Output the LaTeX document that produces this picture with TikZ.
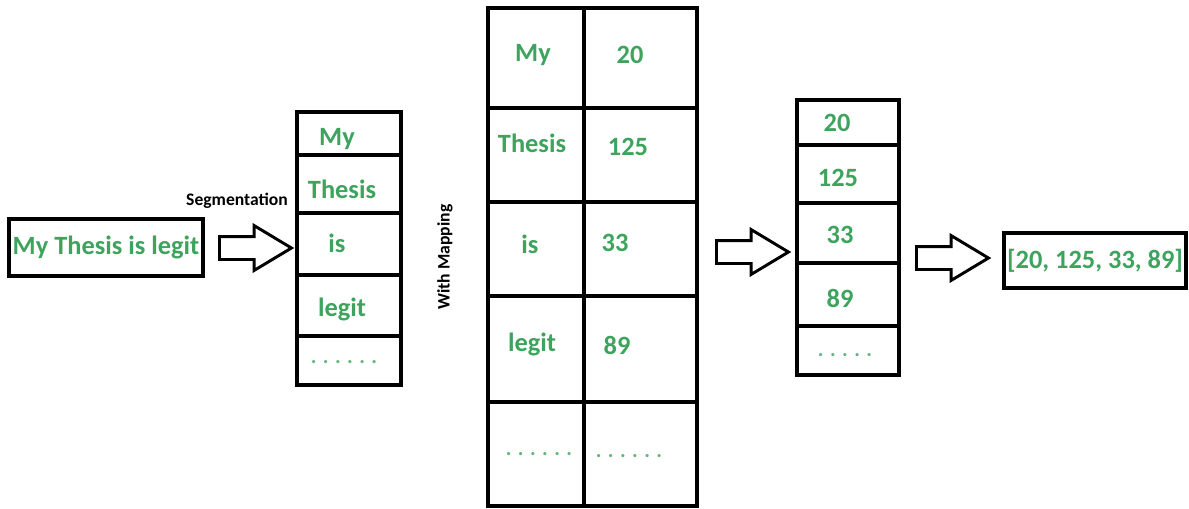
\documentclass[tikz,border=0pt]{standalone}
\usepackage{fontspec}
\setmainfont{Carlito}
\usetikzlibrary{shapes.arrows}
\definecolor{gfgreen}{RGB}{61,163,93}
\tikzset{
    box/.style = {draw, line width = 2.4pt, inner sep = 0pt},
    word/.style = {text = gfgreen, font = \fontsize{19.8}{21}\selectfont\bfseries, inner sep = 0pt},
    dots/.style = {text = gfgreen!80, font = \fontsize{16}{18}\selectfont\bfseries, inner sep = 0pt},
    note/.style = {font = \fontsize{13.2}{15}\selectfont\bfseries, inner sep = 0pt},
    bigarrow/.style = {single arrow, draw, line width = 2.2pt, fill = white, inner xsep = 0pt, inner ysep = 7.5pt,
        minimum height = 54pt, minimum width = 0pt, single arrow head extend = 8.25pt,
        single arrow tip angle = 62, anchor = tail}
}
\begin{document}
\begin{tikzpicture}[x=0.75pt,y=0.75pt,yscale=-1,xscale=1]
            \useasboundingbox (0, 0) rectangle (1189, 508);
            %Input
            \node[box, word, minimum width = 145.5pt, minimum height = 42.75pt] (input) at (106, 247.5) {My Thesis is legit};
            \node[note] (segtext) at (237, 201) {Segmentation};
            \node[bigarrow] (arrow1) at (218, 248) {};
            %Segments
            \foreach \n/\ya/\yb in {1/112/155, 2/155/213, 3/213/275, 4/275/336, 5/336/385} {
                \node[box, minimum width = 78pt, minimum height = {(\yb - \ya) * 0.75pt}] (seg\n) at (349, {(\ya + \yb) / 2}) {};
            }
            \foreach \n/\t/\x/\y in {1/My/337/139, 2/Thesis/342/189, 3/is/337/243, 4/legit/342/309} {
                \node[word] (segword\n) at (\x, \y) {\t};
            }
            \node[dots] (segword5) at (344, 362) {. . . . . .};
            %Mapping
            \node[note, rotate = 90] (maptext) at (445, 257) {With Mapping};
            \foreach \n/\ya/\yb in {1/8/108, 2/108/202, 3/202/296, 4/296/402, 5/402/506} {
                \node[box, minimum width = 72pt, minimum height = {(\yb - \ya) * 0.75pt}] (key\n) at (536, {(\ya + \yb) / 2}) {};
                \node[box, minimum width = 84.75pt, minimum height = {(\yb - \ya) * 0.75pt}] (val\n) at (640.5, {(\ya + \yb) / 2}) {};
            }
            \foreach \n/\t/\x/\y in {1/My/533/55, 2/Thesis/532/143, 3/is/530/244, 4/legit/532/344} {
                \node[word] (keyword\n) at (\x, \y) {\t};
            }
            \foreach \n/\t/\x/\y in {1/20/630/55, 2/125/628/147, 3/33/615/243, 4/89/617/345} {
                \node[word] (valword\n) at (\x, \y) {\t};
            }
            \node[dots] (keyword5) at (539, 454) {. . . . . .};
            \node[dots] (valword5) at (629, 456) {. . . . . .};
            \node[bigarrow] (arrow2) at (715, 252) {};
            %Result
            \foreach \n/\ya/\yb in {1/100/145, 2/145/203, 3/203/263, 4/263/326, 5/326/375} {
                \node[box, minimum width = 76.5pt, minimum height = {(\yb - \ya) * 0.75pt}] (res\n) at (848, {(\ya + \yb) / 2}) {};
            }
            \foreach \n/\t/\x/\y in {1/20/837/123, 2/125/838/178, 3/33/840/235, 4/89/840/298} {
                \node[word] (resword\n) at (\x, \y) {\t};
            }
            \node[dots] (resword5) at (845, 355) {. . . . .};
            \node[bigarrow] (arrow3) at (915, 258) {};
            %Output
            \node[box, word, minimum width = 136.5pt, minimum height = 41.25pt] (output) at (1095, 260.5) {[20, 125, 33, 89]};
        \end{tikzpicture}
\end{document}
